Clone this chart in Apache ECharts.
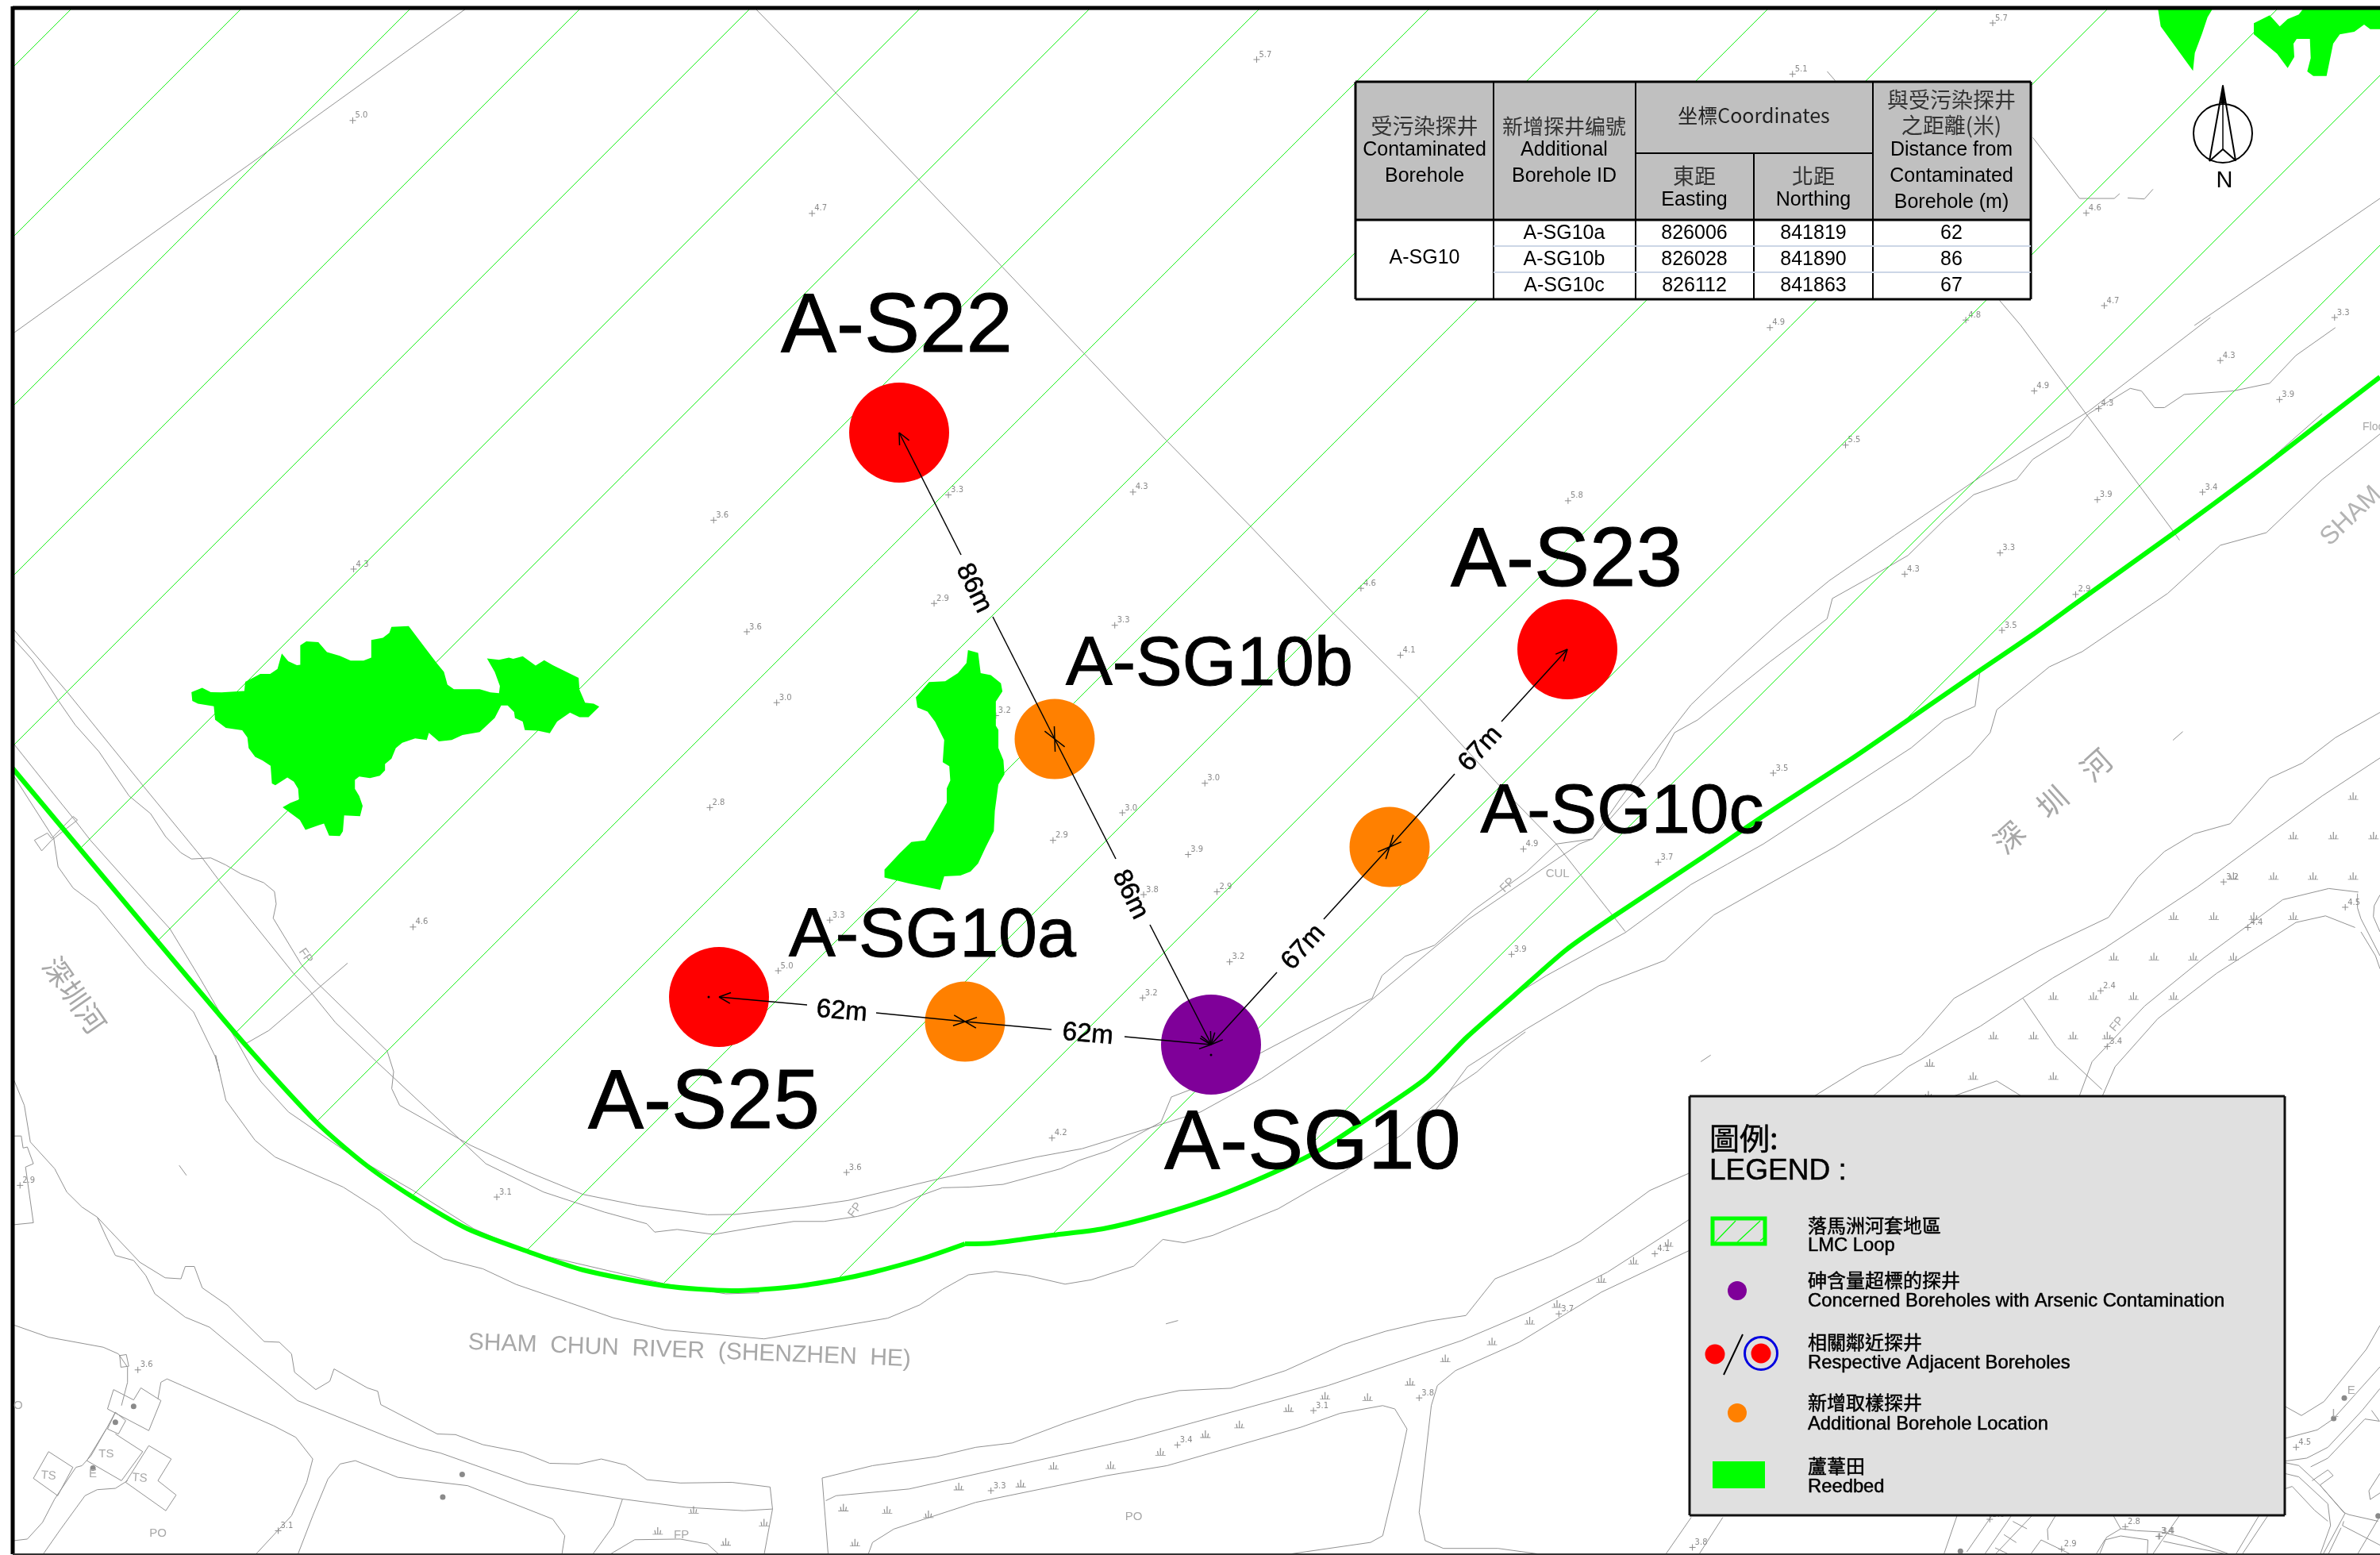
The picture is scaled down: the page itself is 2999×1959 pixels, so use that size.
<!DOCTYPE html>
<html><head><meta charset="utf-8">
<style>html,body{margin:0;padding:0;background:#fff}#c{width:2999px;height:1959px}</style>
<script src="https://cdn.jsdelivr.net/npm/echarts@6/dist/echarts.min.js"></script>
</head><body><div id="c"></div>
<script>
// ---------- table values ----------
const contaminatedBorehole = 'A-SG10';
const additionalIds = ['A-SG10a','A-SG10b','A-SG10c'];
const eastings = [826006,826028,826112];
const northings = [841819,841890,841863];
const distancesM = [62,86,67];
// ---------- boreholes, map metres read as picture units ----------
const adjacentNames = ['A-S22','A-S23','A-S25'];
const adjacentX = [1133,1975,906];
const adjacentY = [545,818,1256];
const concernedName = 'A-SG10';
const concernedXY = [1526,1316];
const additionalX = [1216,1329,1751];
const additionalY = [1287,931,1067];

const P8=[0,650,1.8447,2.24],P3=[700,700,1.568,1.96],P5=[0,1300,1.3067,2.379],P6=[1700,400,1.207,1.568],
      P7=[1000,1300,1.3067,2.379],P4=[0,0,1.568,2.24],P9=[1000,0,2.24,1.96],P1=[1680,90,1.1888,3],
      P10=[2600,0,3,3],P11=[2300,1800,2.243,3],P12=[2720,1100,3,1.825];
const from=(p,pts)=>pts.map(([x,y])=>[p[0]+x/p[2],p[1]+y/p[3]]);

// ---------- LMC loop boundary ----------
const loopLeft=[[16,968],[295,1300],[398,1413],[459,1466],[520,1508],[589,1548],[666,1577],[735,1600],[838,1620],[922,1626],[1000,1621],[1057,1612],[1099,1603],[1161,1586],[1216,1567]];
const loopRight=[[1216,1567],[1252,1566],[1327,1556],[1390,1548],[1459,1531],[1536,1506],[1612,1474],[1666,1447],[1734,1402],[1796,1359],[1849,1306],[1907,1255],[1973,1197],[2031,1156],[2147,1079],[2222,1028],[2330,958],[2400,910],[2487,850],[2562,799],[2620,757],[2740,671],[2839,598],[2926,531],[2999,475]];
const hatchLines=[[[91,10],[17,84]],[[305,10],[17,298]],[[518,10],[17,511]],[[732,10],[17,725]],[[946,10],[17,939]],[[1160,10],[101,1069]],[[1374,10],[199,1185]],[[1588,10],[296,1302]],[[1802,10],[399,1413]],[[2016,10],[519,1507]],[[2229,10],[664,1575]],[[2443,10],[837,1616]],[[2657,10],[1055,1612]],[[2871,10],[1326,1555]],[[2999,95],[1656,1438]],[[2999,309],[2400,908]]];

// ---------- reedbeds ----------
const reedbedWest=from(P8,[[445,497],[470,485],[490,497],[515,498],[568,494],[570,468],[605,446],[628,446],[645,432],[655,388],[670,410],[690,421],[698,420],[698,365],[712,354],[740,356],[760,384],[790,395],[815,408],[845,408],[863,400],[863,350],[890,344],[905,330],[910,313],[950,311],[990,375],[1015,415],[1032,440],[1040,476],[1055,489],[1115,489],[1140,498],[1160,500],[1162,480],[1150,440],[1132,402],[1160,406],[1183,400],[1193,403],[1215,396],[1245,422],[1265,407],[1285,421],[1345,457],[1347,490],[1360,527],[1380,530],[1393,538],[1368,568],[1347,568],[1325,555],[1295,580],[1278,613],[1250,606],[1220,604],[1215,580],[1197,570],[1195,553],[1180,535],[1165,535],[1150,570],[1115,610],[1075,618],[1050,632],[1020,636],[997,612],[992,632],[965,628],[935,640],[920,655],[910,685],[895,700],[895,718],[883,733],[860,740],[835,735],[825,745],[825,770],[835,790],[843,818],[837,847],[800,845],[797,890],[790,903],[765,902],[753,868],[740,873],[710,886],[697,858],[657,822],[675,810],[695,800],[693,770],[683,750],[668,738],[640,760],[632,755],[629,705],[610,690],[593,680],[578,655],[575,625],[563,605],[525,598],[500,575],[497,537],[460,530],[447,522]]);
const reedbedMiddle=from(P3,[[815,233],[835,240],[840,290],[860,295],[880,315],[883,335],[870,360],[870,420],[875,430],[875,475],[885,505],[887,540],[875,565],[868,630],[866,680],[850,720],[835,760],[820,780],[800,790],[768,792],[760,825],[700,810],[650,795],[650,775],[680,735],[703,707],[730,703],[755,650],[773,610],[773,575],[780,555],[778,520],[765,510],[768,455],[750,410],[735,385],[715,375],[712,350],[738,312],[770,310],[795,290],[812,265]]);
const reedbedNorthA=from(P10,[[358,35],[368,100],[490,268],[497,200],[525,125],[545,65],[563,35]]);
const reedbedNorthB=from(P10,[[720,88],[780,58],[818,100],[848,72],[890,55],[905,35],[1197,35],[1197,110],[1160,110],[1137,93],[1100,120],[1045,130],[1020,165],[995,287],[945,287],[922,270],[935,220],[932,147],[882,147],[870,165],[873,215],[848,257],[808,203],[720,130]]);

// ---------- base map lines ----------
const mapLines=[
 [[18,419],[191,295],[348,183],[587,11]],
 [[952,11]].concat(from(P9,[[0,118],[120,230],[355,445],[590,660],[820,873],[1055,1090],[1290,1300],[1530,1520]]),from(P6,[[0,615],[105,750],[225,920],[315,1040],[400,1180],[420,1213]])),
 from(P1,[[740,0],[752,35]]),
 from(P1,[[998,865],[1030,960]]).concat(from(P6,[[1115,180],[1255,425],[1263,440]])),
 from(P1,[[1048,250],[1118,480],[1170,480],[1178,462]]),from(P1,[[1190,478],[1215,482],[1228,445]]),
 from(P1,[[1568,480],[1290,960]]),
 from(P6,[[1310,0],[1125,185],[960,315],[830,430],[730,520],[660,595],[580,690],[520,765],[490,815],[440,900],[370,1030],[315,1040],[270,1095],[190,1170],[130,1240],[85,1262],[50,1300],[35,1345],[0,1365]]),
 from(P6,[[1500,20],[1440,75],[1400,130],[1345,145],[1270,152],[1240,178],[1225,178],[1205,145],[1188,140],[1125,190],[1095,235],[1040,280],[1015,320],[950,350],[905,400],[850,470],[790,515],[735,555],[727,595],[640,680],[530,795],[495,820],[465,890],[370,1030],[350,1040],[180,1190],[0,1385]]),
 from(P6,[[1568,230],[1480,320],[1395,425],[1325,450],[1245,545],[1115,660],[1065,690],[985,775],[975,820],[945,865],[855,950],[740,1045],[555,1180],[480,1270],[380,1320],[270,1405],[180,1480],[130,1568]]),
 from(P6,[[1480,190],[1375,310],[1240,440],[1110,565],[1040,625],[960,695],[952,768],[905,795],[855,850],[760,930],[630,1040],[575,1080],[520,1120],[420,1215],[300,1300],[250,1340],[190,1410]]),
 from(P6,[[1568,780],[1500,830],[1450,880],[1400,910],[1340,1000],[1285,1020],[1240,1055],[1200,1105],[1155,1185],[1050,1250],[920,1345],[870,1420],[840,1455],[780,1480],[705,1540]]),
 from(P6,[[1568,870],[1480,945],[1400,1020],[1290,1125],[1150,1245],[1070,1305],[960,1400],[850,1480],[795,1540]]),
 from(P6,[[1535,1135],[1490,1128],[1420,1150],[1300,1265],[1210,1360],[1130,1470],[1110,1540]]),
 from(P6,[[1530,1205],[1485,1182],[1440,1195],[1320,1295],[1230,1385],[1165,1480],[1145,1540]]),
 from(P6,[[1025,1345],[1075,1440],[1145,1525]]),from(P6,[[915,1540],[985,1508],[1025,1540]]),
 from(P6,[[1253,835],[1268,818]]),from(P6,[[535,1470],[550,1457]]),
 from(P7,[[613,875],[633,865]]),
 from(P8,[[808,1262],[625,1452],[570,1490]]),
 from(P8,[[30,318],[155,495],[335,765],[470,965],[510,1030],[685,1295],[720,1340],[780,1430],[875,1540],[900,1568]]).concat(from(P5,[[640,120],[800,395],[895,480],[995,540],[1065,575],[1078,600],[1115,592],[1175,607],[1245,585],[1300,570]]),from(P7,[[0,568],[50,568],[105,553],[165,525],[210,490],[245,467],[290,465],[345,457],[440,410],[470,385],[520,355],[605,270],[622,195],[655,172],[720,110],[835,0]]),[[1700,1270]]),
 from(P8,[[30,345],[75,405],[135,520],[175,590],[230,665],[300,790],[350,840],[385,905],[420,950],[445,968],[490,965],[525,985],[560,1010],[613,1035],[638,1060],[642,1095],[635,1135],[700,1265],[735,1315],[900,1510],[915,1568]]).concat(from(P5,[[645,170],[658,220],[775,340],[870,420],[960,487],[1050,520],[1165,548],[1210,547],[1320,525]]),from(P7,[[90,505],[240,440],[400,375],[475,350],[600,280],[670,240],[770,140],[885,0]]),[[1700,1283]]),
 from(P8,[[30,640],[135,800],[175,860],[210,915],[350,1105],[395,1165],[465,1305],[520,1420],[545,1470],[590,1568]]).concat(from(P5,[[430,150],[475,240],[575,365],[680,475],[780,590],[870,660],[1095,755],[1195,785],[1250,782]])),
 from(P8,[[30,730],[125,910],[135,990],[170,1050],[225,1100],[340,1270],[450,1400],[500,1525],[510,1568]]).concat(from(P5,[[355,70],[372,205],[420,325],[453,375],[565,465],[625,535],[680,627],[730,680],[795,710],[850,757],[935,810],[1010,857],[1095,893],[1258,920]]),from(P7,[[155,858],[208,818],[245,772],[288,728],[333,718],[385,730],[447,756],[490,743],[560,702],[608,622],[643,632],[690,610],[730,580],[798,530],[855,470],[905,420],[1000,310],[1085,170],[1125,120],[1168,50],[1205,0]])),
 from(P8,[[80,915],[110,895],[120,910],[170,848],[180,858],[120,915],[97,945],[80,915]]),
 from(P5,[[22,140],[40,220],[50,330],[90,410],[110,480],[135,525],[160,555],[175,615],[190,670],[220,685],[240,730],[255,785],[305,855],[345,885],[490,1105],[640,1215],[690,1247],[725,1262],[870,1355],[1025,1400],[1130,1425],[1225,1435],[1272,1430]]),
 from(P5,[[160,555],[230,690],[272,737],[298,740],[305,703],[320,703],[333,767],[375,820],[435,928],[460,930],[480,965],[485,1020],[520,1072],[543,1047],[550,1010],[605,1067],[622,1077],[627,1117],[720,1205],[750,1207],[795,1237],[860,1260],[905,1293],[953,1295],[990,1280],[1030,1298],[1065,1342],[1120,1352],[1205,1350],[1268,1364],[1272,1430],[1258,1568]]),
 from(P5,[[22,878],[80,915],[170,945],[195,965],[210,1005],[210,1050],[200,1120]]),
 from(P5,[[260,1100],[265,1050],[275,1040],[300,1060],[450,1180],[487,1215],[515,1280],[505,1350],[480,1450],[420,1568]]),
 from(P5,[[70,1568],[100,1490],[140,1390],[160,1372],[190,1368],[210,1345]]),
 from(P5,[[22,1525],[45,1520],[70,1470],[90,1400],[125,1305],[135,1300],[150,1270],[175,1190],[190,1140]]),
 from(P5,[[490,1568],[515,1450],[540,1340],[560,1295],[585,1285],[655,1335],[770,1360],[840,1410],[910,1460],[930,1510],[925,1568]]),
 from(P5,[[975,1568],[1010,1480],[1025,1400]]),from(P5,[[1005,1565],[1045,1522],[1120,1520],[1165,1535],[1185,1568]]),
 from(P5,[[22,312],[35,312],[38,348],[45,345],[55,395],[42,405],[55,572],[22,578]]),from(P5,[[295,400],[307,430]]),
 from(P5,[[197,970],[208,967],[212,1002],[199,1005],[197,970]]),
 from(P5,[[187,1072],[220,1103],[232,1067],[265,1105],[245,1195],[177,1130],[187,1072]]),
 from(P5,[[190,1140],[207,1165],[195,1205],[177,1190],[190,1140]]),
 from(P5,[[190,1205],[235,1258],[200,1345],[143,1285],[175,1190]]),
 from(P5,[[245,1240],[282,1280],[260,1345],[290,1388],[273,1435],[207,1350],[245,1240]]),
 from(P5,[[80,1258],[120,1305],[95,1390],[55,1338],[80,1258]]),
 from(P7,[[47,1337],[130,1300],[235,1273],[300,1245],[360,1232],[450,1170],[565,1103],[635,1075],[720,1068],[810,1015],[905,937],[975,897],[1045,867],[1107,850],[1155,740],[1250,670],[1295,628],[1410,475],[1475,423]]),
 from(P7,[[47,1337],[57,1568]]),
 from(P7,[[53,1405],[70,1390],[190,1370],[560,1220],[880,1060],[1100,925],[1210,840],[1340,720],[1475,562]]),
 from(P7,[[123,1565],[130,1530],[165,1490],[300,1410],[515,1330],[615,1300],[835,1185],[900,1143],[970,1120],[990,1130],[1010,1190],[995,1320],[970,1510],[950,1530],[805,1568]]),
 from(P7,[[1240,1568],[1160,1548],[1070,1548],[1040,1525],[1030,1440],[1050,1120],[1060,1060],[1090,1015],[1195,930],[1330,780],[1475,655]]),
 from(P7,[[1435,1568],[1478,1455]]),from(P7,[[1490,1568],[1530,1455]]),
 from(P11,[[335,475],[372,330]]),from(P11,[[400,465],[470,330]]),from(P11,[[450,475],[525,330]]),from(P11,[[480,475],[583,330]]),
 from(P11,[[580,475],[610,420],[695,475]]),from(P11,[[630,420],[628,380],[650,330]]),
 from(P11,[[765,475],[790,420],[835,405],[912,420],[910,475]]),from(P11,[[815,330],[835,378],[795,410],[775,475]]),
 from(P11,[[835,378],[880,385],[950,390],[1010,410],[1145,475]]),from(P11,[[955,425],[1045,450],[1140,475]]),
 from(P11,[[925,475],[950,425],[1000,330]]),from(P11,[[1160,475],[1225,330]]),from(P11,[[1178,475],[1250,330]]),
 from(P11,[[530,350],[570,378]]),from(P11,[[505,400],[540,430]]),from(P11,[[480,450],[520,475]]),
 from(P12,[[752,47],[752,80],[765,105],[837,190]]),from(P12,[[765,135],[820,190],[837,220]]),from(P12,[[837,50],[815,75],[812,100],[837,135]]),
 from(P12,[[475,1225],[540,1247],[625,1215],[785,1095],[837,1040]]),
 from(P12,[[475,1300],[600,1280],[660,1255],[837,1135]]),
 from(P12,[[475,1352],[560,1345],[640,1320],[770,1235],[837,1185]]),
 from(P12,[[475,1355],[530,1362],[610,1407],[700,1470],[720,1475],[830,1490]]),
 from(P12,[[575,1365],[640,1345],[780,1255],[835,1260],[805,1235]]),
 from(P12,[[475,1380],[530,1388],[640,1450],[650,1500],[610,1568]]),
 from(P12,[[480,1415],[505,1410],[590,1465],[640,1490]]),
 from(P12,[[580,1397],[640,1372],[660,1385],[610,1407],[680,1455],[705,1472],[620,1568]]),
 from(P12,[[837,1425],[800,1440],[795,1420],[837,1380]]),
 from(P12,[[700,1490],[695,1500],[837,1545]]),from(P12,[[690,1505],[640,1568]]),from(P12,[[837,1478],[750,1568]]),
];
// ---------- spot heights ----------
const spotHeights=[
 ...[[640,20,'4.9'],[938,5,'4.8'],[1325,85,'4.3'],[1042,145,'4.9'],[1140,180,'4.3'],[1415,162,'3.9'],[755,252,'5.5'],[1138,360,'3.9'],[1298,345,'3.4'],[333,362,'5.8'],[990,465,'3.3'],[845,507,'4.3'],[18,535,'4.6'],[1105,547,'2.9'],[993,618,'3.5'],[78,667,'4.1'],[645,900,'3.5'],[265,1050,'4.9'],[470,1076,'3.7'],[247,1258,'3.9'],[1330,1115,'3.2'],[1515,1165,'4.5'],[1367,1205,'4.4'],[1143,1330,'2.4'],[1153,1440,'3.4']].map(s=>[...from(P6,[s])[0],s[2]]),
 ...[[748,118,'2.9'],[378,188,'3.6'],[1105,172,'3.3'],[437,363,'3.0'],[305,622,'2.8'],[1283,562,'3.0'],[1120,635,'3.0'],[983,703,'2.9'],[1250,738,'3.9'],[1162,837,'3.8'],[1307,830,'2.9'],[542,900,'3.3'],[440,1025,'5.0'],[1332,1003,'3.2'],[1160,1092,'3.2'],[981,1438,'4.2'],[575,1523,'3.6'],[870,395,'3.2']].map(s=>[...from(P3,[s])[0],s[2]]),
 ...[[697,340,'5.0'],[1410,1468,'3.6']].map(s=>[...from(P4,[s])[0],s[2]]),
 ...[[52,527,'4.7'],[1307,147,'5.7'],[437,1222,'3.3'],[958,1215,'4.3']].map(s=>[...from(P9,[s])[0],s[2]]),
 ...[[822,150,'4.3'],[960,1160,'4.6']].map(s=>[...from(P8,[s])[0],s[2]]),
 ...[[33,460,'2.9'],[818,495,'3.1'],[227,1013,'3.6'],[458,1495,'3.1']].map(s=>[...from(P5,[s])[0],s[2]]),
 ...[[1418,665,'4.1'],[1260,845,'3.7'],[1030,1097,'3.8'],[856,1135,'3.1'],[632,1238,'3.4'],[325,1375,'3.3'],[1480,1545,'3.8']].map(s=>[...from(P7,[s])[0],s[2]]),
 ...[[1128,535,'4.6'],[1155,885,'4.7'],[1500,930,'3.3'],[688,10,'5.1']].map(s=>[...from(P1,[s])[0],s[2]]),
 ...[[520,1320,'4.5'],[0,1525,'3.4']].map(s=>[...from(P12,[s])[0],s[2]]),
 ...[[848,370,'2.8'],[945,406,'3.4'],[668,455,'2.9'],[465,342,'3.0']].map(s=>[...from(P11,[s])[0],s[2]]),
 [2511,29,'5.7'],
];
const marshMarks=[
 ...from(P6,[[1527,945],[1436,1023],[1497,1023],[1558,1023],[1345,1103],[1406,1103],[1466,1103],[1527,1103],[1254,1182],[1315,1182],[1376,1182],[1436,1182],[1163,1262],[1224,1262],[1284,1262],[1345,1262],[1071,1340],[1132,1340],[1193,1340],[1254,1340],[980,1418],[1041,1418],[1101,1418],[1153,1418],[883,1472],[949,1498],[1071,1498],[881,1535]]),
 ...from(P7,[[82,1425],[154,1432],[222,1445],[101,1530],[272,1362],[374,1353],[428,1300],[522,1298],[604,1258],[678,1205],[734,1176],[815,1127],[875,1090],[945,1094],[1015,1048],[1073,978],[1150,927],[1212,865],[1257,815],[1330,740],[1383,685],[1440,632]]),
 ...from(P5,[[1142,1432],[1258,1470],[1083,1495],[1195,1528]]),
];
const mapDots=[...from(P5,[[153,1307],[761,1326],[729,1394],[220,1122],[190,1170]]),...from(P12,[[702,1207],[662,1254],[830,1478]]),...from(P11,[[382,463]])];

// ---------- arrows read between boreholes: [from, to, has head] ----------
const arrowSegs=[
 [[1211,699],[1133,545],1],[[1251,777],[1329,931],1],[[1406,1082],[1329,931],1],[[1449,1165],[1526,1315],1],
 [[1609,1225],[1526,1316],1],[[1668,1158],[1751,1067],1],[[1833,975],[1751,1067],1],[[1892,909],[1975,818],1],
 [[1017,1266],[906,1256],1],[[1104,1276],[1216,1287],1],[[1325,1297],[1216,1287],1],[[1417,1306],[1526,1316],1],
];
const centreDots=[[893,1256],[1526,1329]];

// ---------- text placed on the map ----------
const big='"Liberation Sans","Noto Sans CJK TC",sans-serif';
const mapText=[];
const T=(x,y,t,s,o={})=>mapText.push({x,y,t,s,rot:o.rot||0,c:o.c||'#000',al:o.al||'center',f:o.f||big,sw:o.sw||0});
adjacentNames.forEach((n,i)=>T([1130,1974,887][i],[407,702,1385][i],n,105,{sw:1}));
T(1654,1436,concernedName,105,{sw:1});
additionalIds.forEach((n,i)=>T([1175,1524,2044][i],[1175,833,1019][i],n,88,{sw:1}));
const dl=d=>d+'m';
const D={sw:0.6};
T(1061,1272,dl(distancesM[0]),33,{rot:-5,...D});T(1371,1301,dl(distancesM[0]),33,{rot:-5,...D});
T(1229,740,dl(distancesM[1]),33,{rot:-64,...D});T(1426,1126,dl(distancesM[1]),33,{rot:-64,...D});
T(1641,1192,dl(distancesM[2]),33,{rot:48,...D});T(1864,942,dl(distancesM[2]),33,{rot:48,...D});
const G='#a8a8a8';
T(869,1700,'SHAM  CHUN  RIVER  (SHENZHEN  HE)',30,{rot:-2.2,c:G});
T(93,1254,'深圳河',36,{rot:-55,c:G});
const zp=(p,x,y)=>from(p,[[x,y]])[0];
['深','圳','河'].forEach((ch,i)=>{const q=zp(P6,[1005,1070,1137][i],[1028,958,885][i]);T(q[0],q[1],ch,38,{rot:42,c:G});});
{let q=zp(P6,1522,390);T(q[0],q[1],'SHAM',32,{rot:44,c:'#b4b4b4'});}
T(2977,537,'Flood',14,{c:G,al:'left'});
[[P5,1407,533,'FP',55],[P6,240,1120,'FP',45],[P6,317,1097,'CUL',0],[P6,1167,1395,'FP',50],[P8,712,1240,'FP',-55],[P5,1122,1505,'FP',0],[P5,260,1500,'PO',0],[P7,560,1450,'PO',0],[P5,175,1262,'TS',0],[P5,80,1328,'TS',-5],[P5,230,1335,'TS',-5],[P5,153,1323,'E',0],[P5,30,1117,'O',0],[P12,728,1187,'E',0],[P12,668,1240,'L',0]].forEach(a=>{const q=zp(a[0],a[1],a[2]);T(q[0],q[1],a[3],15,{c:G,rot:a[4]});});

// ---------- table & legend layout ----------
const tx=[1708,1882,2061,2210,2360,2559], ty=[103,193,277,310,343,377];
const cjk='"Noto Sans CJK TC","Liberation Sans",sans-serif';
const panels=[[tx[0],ty[0],tx[5],ty[2],'#c0c0c0'],[tx[0],ty[2],tx[5],ty[5],'#ffffff'],[2129,1381,2879,1909,'#e0e0e0']];
const rules=[
 ...tx.map((x,i)=>(i===3)?[x,ty[1],x,ty[5],'#000',2]:[x,ty[0],x,ty[5],'#000',(i===0||i===5)?3:2]),
 [tx[0],ty[0],tx[5],ty[0],'#000',3],[tx[2],ty[1],tx[4],ty[1],'#000',2],[tx[0],ty[2],tx[5],ty[2],'#000',3],
 [tx[1],ty[3],tx[5],ty[3],'#ccd6e6',2],[tx[1],ty[4],tx[5],ty[4],'#ccd6e6',2],[tx[0],ty[5],tx[5],ty[5],'#000',3],
 [2129,1381,2879,1381,'#111',3],[2129,1909,2879,1909,'#111',3],[2129,1381,2129,1909,'#111',3],[2879,1381,2879,1909,'#111',3],
 [2161,1565,2187,1538,'#00ff00',1.2],[2189,1565,2218,1538,'#00ff00',1.2],[2218,1563,2224,1558,'#00ff00',1.2],
 [2196,1681,2172,1732,'#000',2],
];
const lgBoxes=[[2158,1535,2224,1567]];
const lgFill=[[2158,1841,2224,1875]];
const tt=(x,y,t,s,f,c)=>mapText.push({x,y,t,s,rot:0,c:c||'#000',al:'center',f:f||big,sw:0});
const colC=[1795,1971,2135,2285,2459];
tt(colC[0],157,'受污染探井',27,cjk,'#333');tt(colC[0],187,'Contaminated',25);tt(colC[0],220,'Borehole',25);
tt(colC[1],157,'新增探井编號',26,cjk,'#333');tt(colC[1],187,'Additional',25);tt(colC[1],220,'Borehole ID',25);
tt(2210,144,'坐標Coordinates',25,cjk,'#222');
tt(colC[2],220,'東距',27,cjk,'#333');tt(colC[2],250,'Easting',25);tt(colC[3],220,'北距',27,cjk,'#333');tt(colC[3],250,'Northing',25);
tt(colC[4],124,'與受污染探井',27,cjk,'#333');tt(colC[4],156,'之距離(米)',27,cjk,'#333');tt(colC[4],187,'Distance from',25);tt(colC[4],220,'Contaminated',25);tt(colC[4],253,'Borehole (m)',25);
tt(colC[0],323,contaminatedBorehole,25);
[292,325,358].forEach((y,i)=>{tt(colC[1],y,additionalIds[i],25);tt(colC[2],y,String(eastings[i]),25);tt(colC[3],y,String(northings[i]),25);tt(colC[4],y,String(distancesM[i]),25);});
tt(2803,226,'N',29);
const ll=(x,y,t,s,f)=>mapText.push({x,y,t,s,rot:0,c:'#000',al:'left',f:f||big,sw:0.5});
ll(2154,1431,'圖例:',38,cjk);ll(2154,1473,'LEGEND :',37);
[[1542,'落馬洲河套地區',1568,'LMC Loop'],[1611,'砷含量超標的探井',1638,'Concerned Boreholes with Arsenic Contamination'],[1689,'相關鄰近探井',1716,'Respective Adjacent Boreholes'],[1765,'新增取樣探井',1793,'Additional Borehole Location'],[1845,'蘆葦田',1872,'Reedbed']].forEach(r=>{ll(2278,r[0],r[1],24,cjk);ll(2278,r[2],r[3],23.8);});

// ---------- helpers ----------
const gap=['-','-'];
const join=ls=>ls.flatMap((l,i)=>i?[gap,...l]:l);
const poly=(pts,fill,z)=>({type:'custom',coordinateSystem:'cartesian2d',silent:true,animation:false,z,clip:true,data:[[0,0]],
 renderItem:(p,api)=>({type:'polygon',shape:{points:pts.map(q=>api.coord(q))},style:{fill}})});
const line=(pts,color,width,z,smooth)=>({type:'line',coordinateSystem:'cartesian2d',data:pts,showSymbol:false,silent:true,animation:false,connectNulls:false,smooth:smooth||false,z,lineStyle:{color,width,opacity:1,join:'round'},itemStyle:{color}});
const dots=(pts,color,size,z)=>({type:'scatter',data:pts,symbol:'circle',symbolSize:size,silent:true,animation:false,z,itemStyle:{color,opacity:1}});
const listSeries=(list,z,draw)=>({type:'custom',coordinateSystem:'cartesian2d',silent:true,animation:false,z,data:list.map((_,i)=>[i,0]),renderItem:(p,api)=>draw(list[p.dataIndex],api)});

const HEAD=16,ANG=25*Math.PI/180;
const option={
 animation:false,backgroundColor:'#fff',
 grid:{left:0,right:0,top:0,bottom:0,containLabel:false},
 xAxis:{type:'value',min:0,max:2999,show:false},
 yAxis:{type:'value',min:0,max:1959,inverse:true,show:false},
 series:[
  line(join(mapLines),'#929292',1,1),
  line(join(hatchLines),'#1cf01c',1,2),
  dots(mapDots,'#8a8a8a',7,2),
  {type:'scatter',data:marshMarks,symbol:'path://M0 10H14M7 10V3M4 10L3 6M10 10L11 6',symbolSize:[13,9],silent:true,animation:false,z:2,itemStyle:{color:'rgba(0,0,0,0)',borderColor:'#8e8e8e',borderWidth:1,opacity:1}},
  listSeries(spotHeights,2,(s,api)=>{const [x,y]=api.coord([s[0],s[1]]);return{type:'group',children:[
    {type:'line',shape:{x1:x-4,y1:y,x2:x+4,y2:y},style:{stroke:'#8a8a8a',lineWidth:1}},
    {type:'line',shape:{x1:x,y1:y-4,x2:x,y2:y+4},style:{stroke:'#8a8a8a',lineWidth:1}},
    {type:'text',x:x+3,y:y-6,style:{text:s[2],fontSize:10,fontFamily:'"DejaVu Sans"',fill:'#8a8a8a',align:'left',verticalAlign:'middle'}}]};}),
  poly(reedbedWest,'#00ff00',3),poly(reedbedMiddle,'#00ff00',3),poly(reedbedNorthA,'#00ff00',3),poly(reedbedNorthB,'#00ff00',3),
  line(loopLeft,'#00ff00',6,4,0.25),line(loopRight,'#00ff00',6,4,0.25),
  line([[16,10],[2999,10]],'#000',5,5),line([[16,8],[16,1958]],'#000',5,5),line([[16,1958],[2999,1958]],'#333',2,5),
  dots(adjacentX.map((x,i)=>[x,adjacentY[i]]),'#ff0000',126,6),
  dots(additionalX.map((x,i)=>[x,additionalY[i]]),'#ff8000',101,6),
  dots([concernedXY],'#7f0099',126,6),
  dots(centreDots,'#000',3,7),
  listSeries(arrowSegs,7,(a,api)=>{const p=api.coord(a[0]),q=api.coord(a[1]);const t=Math.atan2(p[1]-q[1],p[0]-q[0]);const w=s=>({type:'line',shape:{x1:q[0],y1:q[1],x2:q[0]+HEAD*Math.cos(t+s*ANG),y2:q[1]+HEAD*Math.sin(t+s*ANG)},style:{stroke:'#000',lineWidth:1.5}});
    return{type:'group',children:[{type:'line',shape:{x1:p[0],y1:p[1],x2:q[0],y2:q[1]},style:{stroke:'#000',lineWidth:1.5}},w(1),w(-1)]};}),
  // north arrow
  {type:'scatter',data:[[2801,168]],symbol:'circle',symbolSize:74,silent:true,animation:false,z:8,itemStyle:{color:'rgba(0,0,0,0)',borderColor:'#000',borderWidth:2,opacity:1}},
  line([[2784,203],[2801,108],[2817,202],[2801,188],[2784,203]],'#000',2,8),
  poly([[2798,130],[2801,108],[2804,130]],'#000',8),
  line([[2801,108],[2801,188]],'#000',1.5,8),
  // panels
  listSeries(panels,20,(r,api)=>{const a=api.coord([r[0],r[1]]),b=api.coord([r[2],r[3]]);return{type:'rect',shape:{x:a[0],y:a[1],width:b[0]-a[0],height:b[1]-a[1]},style:{fill:r[4]}};}),
  listSeries(rules,21,(r,api)=>{const a=api.coord([r[0],r[1]]),b=api.coord([r[2],r[3]]);return{type:'line',shape:{x1:a[0],y1:a[1],x2:b[0],y2:b[1]},style:{stroke:r[4],lineWidth:r[5]}};}),
  listSeries(lgBoxes,22,(r,api)=>{const a=api.coord([r[0],r[1]]),b=api.coord([r[2],r[3]]);return{type:'rect',shape:{x:a[0],y:a[1],width:b[0]-a[0],height:b[1]-a[1]},style:{fill:'rgba(0,0,0,0)',stroke:'#00ff00',lineWidth:5}};}),
  listSeries(lgFill,22,(r,api)=>{const a=api.coord([r[0],r[1]]),b=api.coord([r[2],r[3]]);return{type:'rect',shape:{x:a[0],y:a[1],width:b[0]-a[0],height:b[1]-a[1]},style:{fill:'#00ff00'}};}),
  dots([[2189,1626]],'#7f0099',24,23),
  dots([[2161,1706],[2219,1705]],'#ff0000',25,23),
  dots([[2189,1780]],'#ff8000',24,23),
  {type:'scatter',data:[[2219,1705]],symbol:'circle',symbolSize:41,silent:true,animation:false,z:23,itemStyle:{color:'rgba(0,0,0,0)',borderColor:'#0000e0',borderWidth:3,opacity:1}},
  // text
  listSeries(mapText,30,(m,api)=>{const q=api.coord([m.x,m.y]);const dy=m.s*0.07;const th=m.rot*Math.PI/180;
    return{type:'text',x:q[0]+dy*Math.sin(th),y:q[1]+dy*Math.cos(th),rotation:th,style:{text:m.t,fontSize:m.s,fontFamily:m.f,fill:m.c,align:m.al,verticalAlign:'middle',stroke:m.sw?m.c:undefined,lineWidth:m.sw}};}),
 ]
};
const chart=echarts.init(document.getElementById('c'),null,{renderer:'canvas',width:2999,height:1959});
chart.setOption(option);
</script></body></html>
